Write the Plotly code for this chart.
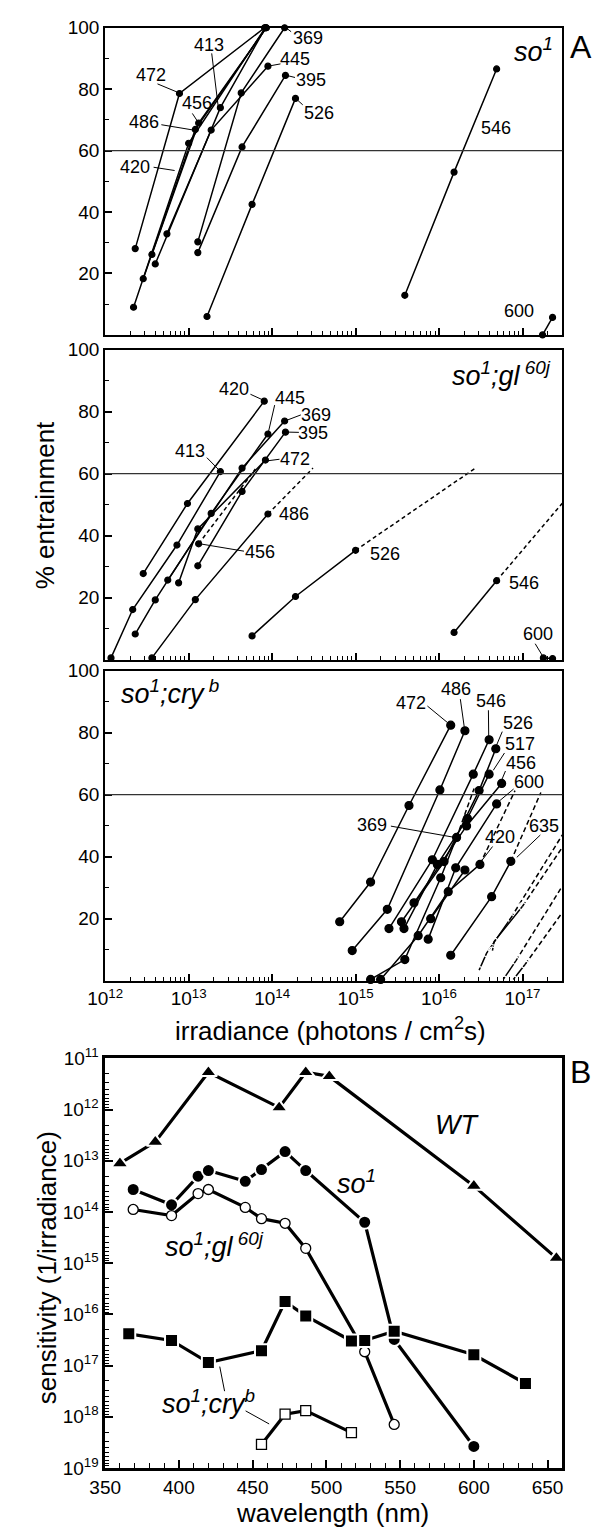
import plotly.graph_objects as go

# ---------------- DATA ----------------
# Panel A: x = log10(irradiance, photons/cm^2 s), y = % entrainment
# so1
A1_wl = ["369", "395", "413", "420", "445", "456", "472", "486", "526", "546", "600"]
A1_logI = [[13.11, 13.63, 14.15], [13.11, 13.64, 14.16], [12.60, 13.38, 13.92],
           [12.34, 13.00, 13.92], [12.74, 13.27, 13.95], [12.56, 13.12, 13.93],
           [12.36, 12.89, 13.91], [12.456, 13.08, 13.93], [13.22, 13.76, 14.28],
           [15.59, 16.18, 16.69], [17.24, 17.36]]
A1_pct = [[30.3, 78.8, 100], [26.8, 61.2, 84.5], [23.1, 74.0, 100],
          [9.0, 62.4, 100], [32.9, 66.7, 87.5], [26.2, 69.0, 100],
          [28.1, 78.6, 100], [18.3, 66.9, 100], [6.0, 42.5, 77.0],
          [12.9, 53.0, 86.6], [0.0, 5.7]]

# so1;gl60j
A2_wl = ["420", "413", "445", "369", "395", "472", "456", "486", "526", "546", "600"]
A2_logI = [[12.456, 12.986, 13.906], [12.07, 12.33, 12.86, 13.38], [12.36, 12.60, 13.27, 13.95],
           [12.75, 13.64, 14.15], [13.11, 13.64, 14.16], [12.88, 13.11, 13.92],
           [13.12], [12.56, 13.08, 13.95], [13.76, 14.28, 15.00], [16.18, 16.69], [17.25, 17.36]]
A2_pct = [[27.8, 50.4, 83.4], [0.6, 16.2, 37.0, 60.7], [8.3, 19.3, 47.2, 72.8],
          [25.7, 61.8, 77.0], [30.3, 54.3, 73.4], [24.8, 42.2, 64.4],
          [37.4], [0.6, 19.4, 47.0], [7.7, 20.4, 35.3], [8.8, 25.5], [0.6, 0.4]]
A2_dash_logI = [[13.12, 13.80], [13.95, 14.49], [15.00, 16.43], [16.69, 17.477]]
A2_dash_pct = [[37.4, 61.5], [47.0, 61.8], [35.3, 61.7], [25.5, 50.5]]

# so1;cry b (filled)
A3_wl = ["472", "486", "546", "526", "517", "456", "369", "420", "600", "635", ""]
A3_logI = [[14.81, 15.18, 15.64, 16.14], [14.96, 15.38, 16.01, 16.31], [15.40, 15.92, 16.41, 16.60],
           [15.55, 16.06, 16.48, 16.68], [15.58, 15.98, 16.34, 16.60], [15.70, 16.33, 16.75],
           [15.18, 15.59, 16.02, 16.21], [15.30, 15.75, 16.11, 16.49], [15.87, 16.20, 16.69],
           [16.14, 16.63, 16.86], [15.90, 16.31]]
A3_pct = [[19.0, 31.8, 56.5, 82.4], [9.7, 23.0, 61.5, 80.6], [16.8, 39.0, 66.6, 77.7],
          [19.0, 38.4, 61.3, 74.8], [16.8, 37.5, 52.3, 66.6], [25.1, 49.9, 63.6],
          [0.4, 6.8, 33.2, 46.2], [0.4, 14.5, 28.7, 37.5], [13.4, 36.4, 57.0],
          [8.2, 27.1, 38.5], [20.0, 35.7]]
# so1;cry b (open symbols)
A3o_logI = [[16.48, 16.57, 16.86], [16.64, 16.66, 17.00], [16.77, 16.92], [16.89, 17.03]]
A3o_pct = [[3.4, 8.9, 20.2], [9.7, 12.6, 24.0], [0.4, 6.4], [0.4, 5.2]]
A3_dash_logI = [[16.21, 16.42], [16.49, 16.91], [16.86, 17.22],
                [16.86, 17.477], [17.00, 17.477], [16.92, 17.477], [17.03, 17.477]]
A3_dash_pct = [[46.2, 62.0], [37.5, 61.3], [38.5, 60.7],
               [20.2, 47.0], [24.0, 43.0], [6.4, 30.5], [5.2, 22.0]]

# Panel B: wavelength (nm) vs log10(irradiance) for threshold
WT_wl = [360, 384, 420, 468, 486, 502, 600, 656]
WT_log = [13.05, 12.63, 11.27, 11.96, 11.27, 11.35, 13.49, 14.90]
so1_wl = [369, 395, 413, 420, 445, 456, 472, 486, 526, 546, 600]
so1_log = [13.56, 13.86, 13.30, 13.19, 13.40, 13.17, 12.82, 13.19, 14.20, 16.49, 18.58]
gl_wl = [369, 395, 413, 420, 445, 456, 472, 486, 526, 546]
gl_log = [13.95, 14.07, 13.64, 13.56, 13.91, 14.13, 14.22, 14.71, 16.73, 18.15]
cry_wl = [366, 395, 420, 456, 472, 486, 517, 526, 546, 600, 635]
cry_log = [16.38, 16.51, 16.94, 16.71, 15.75, 16.03, 16.52, 16.51, 16.33, 16.79, 17.35]
cryo_wl = [456, 472, 486, 517]
cryo_log = [18.54, 17.95, 17.88, 18.31]

# ---------------- LAYOUT HELPERS ----------------
W, H = 604, 1540
FONT = "Liberation Sans, Arial, Helvetica, sans-serif"


def px(x):
    return x / W


def py(y):
    return 1 - y / H


XDOM = [px(90), px(562)]
P1 = [py(327), py(15)]
P2 = [py(657), py(342)]
P3 = [py(983), py(668)]
PB = [py(1478), py(1062)]

fig = go.Figure()


def add_curves(logs, pcts, xa, ya, msize, symbol="circle", dash=None, mode="lines+markers"):
    for lx, yy in zip(logs, pcts):
        fig.add_trace(go.Scatter(
            x=[10 ** v for v in lx], y=yy, mode=mode, xaxis=xa, yaxis=ya,
            line=dict(color="black", width=1.5, dash=dash),
            marker=dict(size=msize, color="black" if symbol == "circle" else "white",
                        symbol=symbol, line=dict(color="black", width=1.2)),
            cliponaxis=False, showlegend=False, hoverinfo="skip"))


add_curves(A1_logI, A1_pct, "x", "y", 6)
add_curves(A2_logI, A2_pct, "x2", "y2", 6)
add_curves(A2_dash_logI, A2_dash_pct, "x2", "y2", 6, dash="4px,3px", mode="lines")
add_curves(A3_dash_logI, A3_dash_pct, "x3", "y3", 6, dash="5px,3px", mode="lines")
add_curves(A3_logI, A3_pct, "x3", "y3", 8)
add_curves(A3o_logI, A3o_pct, "x3", "y3", 7, symbol="circle-open")


def add_b(wl, lg, symbol, size, fill):
    fig.add_trace(go.Scatter(
        x=wl, y=[10 ** v for v in lg], mode="lines+markers", xaxis="x4", yaxis="y4",
        line=dict(color="black", width=3.2),
        marker=dict(symbol=symbol, size=size, color=fill,
                    line=dict(color="white" if fill == "black" else "black",
                              width=2 if fill == "black" else 1.3)),
        cliponaxis=False, showlegend=False, hoverinfo="skip"))


add_b(WT_wl, WT_log, "triangle-up", 15, "black")
add_b(so1_wl, so1_log, "circle", 13, "black")
add_b(gl_wl, gl_log, "circle", 10, "white")
add_b(cry_wl, cry_log, "square", 13, "black")
add_b(cryo_wl, cryo_log, "square", 10, "white")

# ---------------- AXES ----------------
dec_vals = [10 ** n for n in range(12, 18)]
dec_text = ["10<sup>%d</sup>" % n for n in range(12, 18)]
minor_vals = [k * 10 ** n for n in range(12, 18) for k in range(2, 10) if k * 10 ** n <= 3e17]
tickfont = dict(family=FONT, size=19, color="black")

xcommon = dict(type="log", range=[12, 17.477], domain=XDOM, showline=True, mirror=True,
               linecolor="black", linewidth=2, ticks="inside", ticklen=7, tickwidth=1.5,
               tickcolor="black", tickmode="array", tickvals=dec_vals, ticktext=dec_text,
               minor=dict(tickmode="array", tickvals=minor_vals, ticks="inside", ticklen=4,
                          tickwidth=1, tickcolor="black"),
               showgrid=False, zeroline=False, tickfont=tickfont)
ycommon = dict(range=[0, 100], showline=True, mirror=True, linecolor="black", linewidth=2,
               ticks="inside", ticklen=7, tickwidth=1.5, tickcolor="black",
               tickmode="array", tickvals=[20, 40, 60, 80, 100],
               minor=dict(tickmode="array", tickvals=[10, 30, 50, 70, 90], ticks="inside",
                          ticklen=4, tickwidth=1, tickcolor="black"),
               showgrid=False, zeroline=False, tickfont=tickfont)

b_ydec = [10 ** n for n in range(11, 20)]
b_ytext = ["10<sup>%d</sup>" % n for n in range(11, 20)]
b_yminor = [k * 10 ** n for n in range(11, 19) for k in range(2, 10)]

fig.update_layout(
    width=W, height=H, margin=dict(l=0, r=0, t=0, b=0),
    paper_bgcolor="white", plot_bgcolor="white", showlegend=False,
    font=dict(family=FONT, color="black"),
    xaxis=dict(xcommon, anchor="y", showticklabels=False),
    xaxis2=dict(xcommon, anchor="y2", showticklabels=False),
    xaxis3=dict(xcommon, anchor="y3", showticklabels=True),
    yaxis=dict(ycommon, domain=P1, anchor="x"),
    yaxis2=dict(ycommon, domain=P2, anchor="x2"),
    yaxis3=dict(ycommon, domain=P3, anchor="x3"),
    xaxis4=dict(range=[350, 660], domain=XDOM, anchor="y4", showline=True, mirror=True,
                linecolor="black", linewidth=2.5, ticks="inside", ticklen=8, tickwidth=1.5,
                tickcolor="black", tickmode="linear", tick0=350, dtick=50,
                minor=dict(ticks="inside", ticklen=5, tickwidth=1, dtick=10, tickcolor="black"),
                showgrid=False, zeroline=False, tickfont=tickfont),
    yaxis4=dict(type="log", range=[19, 11], domain=PB, anchor="x4", showline=True, mirror=True,
                linecolor="black", linewidth=2.5, ticks="inside", ticklen=8, tickwidth=1.5,
                tickcolor="black", tickmode="array", tickvals=b_ydec, ticktext=b_ytext,
                minor=dict(tickmode="array", tickvals=b_yminor, ticks="inside", ticklen=4,
                           tickwidth=1, tickcolor="black"),
                showgrid=False, zeroline=False, tickfont=tickfont),
)

# 60 % reference lines
for ya in ["y", "y2", "y3"]:
    fig.add_shape(type="line", xref=ya.replace("y", "x") + " domain", yref=ya,
                  x0=0, x1=1, y0=60, y1=60, line=dict(color="#333333", width=1.3))

# ---------------- LABELS ----------------


def label(text, x, y, xanchor="center", size=18, italic=False, angle=0):
    t = "<i>%s</i>" % text if italic else text
    fig.add_annotation(text=t, x=px(x), y=py(y), xref="paper", yref="paper",
                       showarrow=False, xanchor=xanchor, yanchor="middle", textangle=angle,
                       font=dict(family=FONT, size=size, color="black"))


def leader(x0, y0, x1, y1):
    fig.add_shape(type="line", xref="paper", yref="paper", x0=px(x0), y0=py(y0),
                  x1=px(x1), y1=py(y1), line=dict(color="black", width=1))


labels1 = [("413", 197, 32, (200, 41, 206.7, 95)), ("472", 137, 63, (144, 72, 166, 81)),
           ("456", 185, 91, (180, 102, 186, 111)), ("486", 130, 111, (148, 113.5, 181.7, 119)),
           ("420", 121, 156, (140, 156.7, 161.7, 160)), ("369", 299, 25, (282, 19, 276.7, 15)),
           ("445", 286, 47, (271, 51.7, 258.3, 54)), ("395", 302, 68, (286, 65.5, 277, 63.3)),
           ("526", 311, 102, (294, 93.3, 287.3, 87.3)), ("546", 494, 117, None),
           ("600", 517, 303, None)]
labels2 = [("420", 223, 382, (240, 387.3, 253.3, 393.3)), ("445", 281, 391, (265, 398.3, 258.3, 426.7)),
           ("369", 308, 408, (292, 408.3, 276.7, 414)), ("395", 305, 427, (290, 426, 277, 425.7)),
           ("413", 178, 445, (195, 451.7, 208.3, 465)), ("472", 286, 453, (270, 453.3, 256.7, 455)),
           ("486", 285, 509, None), ("456", 250, 548, (233.3, 546.7, 188.3, 539.3)),
           ("526", 379, 550, None), ("546", 522, 579, None),
           ("600", 537, 631, (534, 640.7, 541.7, 653.3))]
labels3 = [("472", 406, 701, (422.7, 704, 443.3, 720.7)), ("486", 452, 687, (456.7, 697, 460.7, 725)),
           ("546", 488, 699, (485.7, 708.3, 486, 735)), ("526", 516, 721, (500, 730, 494, 744)),
           ("517", 518, 743, (502.3, 751.7, 490.7, 769.3)), ("456", 519, 762, (503.3, 770, 498.3, 781.7)),
           ("600", 528, 781, (511.7, 788.3, 496.7, 800.7)), ("369", 366, 825, (385, 826, 450, 837.3)),
           ("420", 498, 837, (490, 846.7, 478.3, 861.7)), ("635", 543, 826, (539.3, 835, 515, 857.7))]
for grp in (labels1, labels2, labels3):
    for txt, x, y, ld in grp:
        label(txt, x, y)
        if ld:
            leader(*ld)

# panel titles
label("so<sup>1</sup>", 554, 38, xanchor="right", size=27, italic=True)
label("so<sup>1</sup>;gl<sup> 60j</sup>", 552, 367, xanchor="right", size=27, italic=True)
label("so<sup>1</sup>;cry<sup> b</sup>", 104, 690, xanchor="left", size=27, italic=True)
label("A", 581, 35, size=32)
label("B", 581, 1076, size=32)

# panel B labels
label("WT", 453, 1130, size=27, italic=True)
label("so<sup>1</sup>", 350, 1187, size=27, italic=True)
label("so<sup>1</sup>;gl<sup> 60j</sup>", 203, 1252, size=27, italic=True)
label("so<sup>1</sup>;cry<sup>b</sup>", 197, 1411, size=27, italic=True)
leader(208.3, 1375, 213.3, 1400)
leader(235, 1420, 259.3, 1433.3)

# axis titles
label("% entrainment", 28, 500, size=26, angle=-90)
label("irradiance (photons / cm<sup>2</sup>s)", 323, 1033, size=26)
label("sensitivity (1/irradiance)", 30, 1275, size=26, angle=-90)
label("wavelength (nm)", 325, 1524, size=26)

fig.write_html("out.html", config={"displayModeBar": False},
               post_script="document.body.style.margin='0';"
                           "document.body.style.overflow='hidden';")
